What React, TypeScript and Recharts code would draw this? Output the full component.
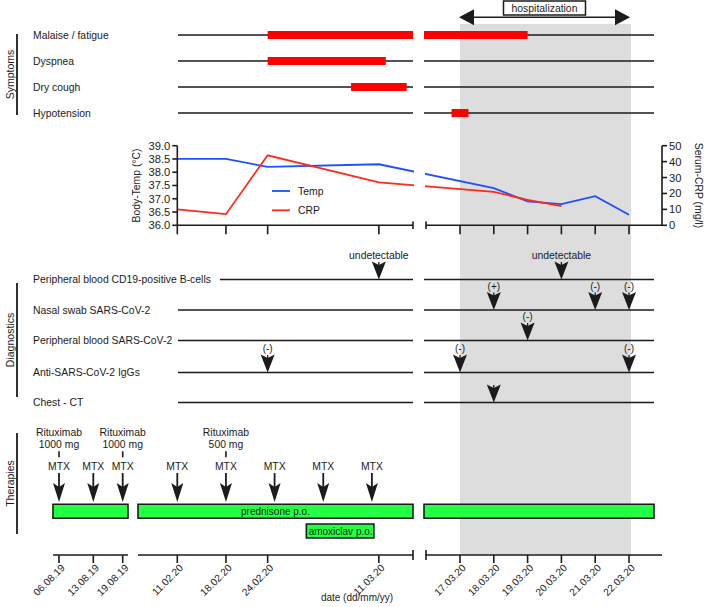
import React from 'react';
import {
  ComposedChart,
  LineChart,
  Line,
  XAxis,
  YAxis,
  ReferenceArea,
  ReferenceLine,
  ReferenceDot,
  Scatter,
  Legend,
} from 'recharts';

// ---------------- data ----------------
const bottomTickDates = ['06.08.19', '13.08.19', '19.08.19', '11.02.20', '18.02.20', '24.02.20', '11.03.20', '17.03.20', '18.03.20', '19.03.20', '20.03.20', '21.03.20', '22.03.20'];
const plotTickDates = ['11.02.20', '18.02.20', '24.02.20', '11.03.20', '17.03.20', '18.03.20', '19.03.20', '20.03.20', '21.03.20', '22.03.20'];
const vitalDates = ['11.02.20', '18.02.20', '24.02.20', '11.03.20', '18.03.20', '19.03.20', '20.03.20', '21.03.20', '22.03.20'];
const tempValues = [38.5, 38.5, 38.2, 38.3, 37.4, 36.9, 36.8, 37.1, 36.4];
const crpValues: (number | null)[] = [10, 7, 44, 27, 21, 16, 12, null, null];
const tempTicks = [36, 36.5, 37, 37.5, 38, 38.5, 39];
const crpTicks = [0, 10, 20, 30, 40, 50];
const seriesNames = ['Temp', 'CRP'];

const hospitalization = { from: '17.03.20', to: '22.03.20', label: 'hospitalization' };

const symptomRows = ['Malaise / fatigue', 'Dyspnea', 'Dry cough', 'Hypotension'];
const symptomSpans = [
  { row: 'Malaise / fatigue', from: '24.02.20', to: '19.03.20' },
  { row: 'Dyspnea', from: '24.02.20', to: '12.03.20' },
  { row: 'Dry cough', from: '07.03.20', to: '15.03.20' },
  { row: 'Hypotension', from: '16.03.20 18', to: '17.03.20 06' },
];

const diagnosticRows = ['Peripheral blood CD19-positive B-cells', 'Nasal swab SARS-CoV-2', 'Peripheral blood SARS-CoV-2', 'Anti-SARS-CoV-2 IgGs', 'Chest - CT'];
const diagnosticResults = [
  { row: 'Peripheral blood CD19-positive B-cells', date: '11.03.20', result: 'undetectable' },
  { row: 'Peripheral blood CD19-positive B-cells', date: '20.03.20', result: 'undetectable' },
  { row: 'Nasal swab SARS-CoV-2', date: '18.03.20', result: '(+)' },
  { row: 'Nasal swab SARS-CoV-2', date: '21.03.20', result: '(-)' },
  { row: 'Nasal swab SARS-CoV-2', date: '22.03.20', result: '(-)' },
  { row: 'Peripheral blood SARS-CoV-2', date: '19.03.20', result: '(-)' },
  { row: 'Anti-SARS-CoV-2 IgGs', date: '24.02.20', result: '(-)' },
  { row: 'Anti-SARS-CoV-2 IgGs', date: '17.03.20', result: '(-)' },
  { row: 'Anti-SARS-CoV-2 IgGs', date: '22.03.20', result: '(-)' },
  { row: 'Chest - CT', date: '18.03.20', result: '' },
];

const mtxDates = ['06.08.19', '13.08.19', '19.08.19', '11.02.20', '18.02.20', '25.02.20', '03.03.20', '10.03.20'];
const rituximabDoses = [
  { date: '06.08.19', dose: '1000 mg' },
  { date: '19.08.19', dose: '1000 mg' },
  { date: '18.02.20', dose: '500 mg' },
];
const prednisone = { label: 'prednisone p.o.' };
const amoxiclav = { from: '01.03.20', to: '10.03.20', label: 'amoxiclav p.o.' };

// ---------------- style / layout ----------------
const FONT = '"Liberation Sans", Arial, Helvetica, sans-serif';
const INK = '#1b1b1b';
const BLUE = '#1f50ff';
const RED = '#ff2a1a';
const GREEN = '#22ff44';
const GREY = '#dddddd';
const W = 709;
const H = 607;
const AXIS_Y = 555;

// broken date scale (three pieces)
const SCALE_PIECES = [
  { from: '01.01.19', anchor: '06.08.19', at: 59, perDay: 4.9 },
  { from: '01.02.20', anchor: '11.02.20', at: 177.3, perDay: 6.95 },
  { from: '16.03.20 12', anchor: '17.03.20', at: 460, perDay: 33.8 },
];
function parseDay(s: string): number {
  const [d, h] = s.split(' ');
  const [dd, mm, yy] = d.split('.').map(Number);
  return Date.UTC(2000 + yy, mm - 1, dd, h ? Number(h) : 0) / 86400000;
}
function toX(s: string): number {
  const t = parseDay(s);
  let piece = SCALE_PIECES[0];
  for (const p of SCALE_PIECES) if (t >= parseDay(p.from)) piece = p;
  return piece.at + (t - parseDay(piece.anchor)) * piece.perDay;
}

const ROW_SEGMENTS: [number, number][] = [[178, 413], [424, 654]];
const CD19_SEGMENTS: [number, number][] = [[220, 413], [424, 654]];
const BAR_SEGMENTS: [number, number][] = [[53, 128], [138, 413], [424, 654]];
const AXIS_SEGMENTS: [number, number][] = [[53, 128], [138, 413], [426, 662]];
const AXIS_BREAKS = [413, 426];
const LABEL_X = 33;
const PLOT_X: [number, number] = [177.3, 662];
const PLOT_TOP = 145.7;
const PLOT_BOTTOM = 225.3;

const symptomY = (row: string) => 35 + symptomRows.indexOf(row) * 26;
const DIAG_Y = [279.5, 310, 340.5, 372.5, 402.5];
const diagY = (row: string) => DIAG_Y[diagnosticRows.indexOf(row)];
const MTX_TIP_Y = 502;
const PRED_Y: [number, number] = [504.3, 518.3];
const AMOX_Y: [number, number] = [524, 538];

const clip = (a: number, b: number, segs: [number, number][]) =>
  segs.map(([s, e]) => [Math.max(a, s), Math.min(b, e)] as [number, number]).filter(([s, e]) => e > s);

const txt = { fontFamily: FONT, fill: INK, fontSize: 10.4 };

function mark(key: string, x: number, y: number, render: (cx: number, cy: number) => React.ReactNode) {
  return (
    <ReferenceDot
      key={key}
      x={x}
      y={y}
      r={1}
      ifOverflow="visible"
      shape={(p: any) => <g>{render(p.cx, p.cy)}</g>}
    />
  );
}

function hline(key: string, x1: number, x2: number, y: number, w = 1.6, yAxisId?: string) {
  return (
    <ReferenceLine
      key={key}
      yAxisId={yAxisId}
      segment={[{ x: x1, y }, { x: x2, y }]}
      stroke={INK}
      strokeWidth={w}
      ifOverflow="visible"
    />
  );
}

// thin row line drawn as an area so that coloured bars can sit on top of it
function rowLine(key: string, x1: number, x2: number, y: number) {
  return <ReferenceArea key={key} x1={x1} x2={x2} y1={y - 0.85} y2={y + 0.85} fill={INK} fillOpacity={1} stroke="none" ifOverflow="visible" />;
}

const DiagArrow = (p: any) => {
  const { cx, cy, payload } = p;
  return (
    <g>
      {payload.result ? (
        <text x={cx} y={cy - 24} textAnchor="middle" dominantBaseline="central" {...txt} fontSize={payload.result === 'undetectable' ? 10.4 : 10}>
          {payload.result}
        </text>
      ) : null}
      <path d={`M${cx},${cy} L${cx - 7},${cy - 18} L${cx},${cy - 14.5} L${cx + 7},${cy - 18} Z`} fill={INK} />
      <line x1={cx} x2={cx} y1={cy - 17.5} y2={cy - 12} stroke={INK} strokeWidth={1.3} />
    </g>
  );
};

const MtxArrow = (p: any) => {
  const { cx, cy } = p;
  return (
    <g>
      <text x={cx} y={cy - 36} textAnchor="middle" dominantBaseline="central" {...txt}>MTX</text>
      <line x1={cx} x2={cx} y1={cy - 29} y2={cy - 12} stroke={INK} strokeWidth={1.8} />
      <path d={`M${cx},${cy} L${cx - 6},${cy - 19} L${cx},${cy - 15} L${cx + 6},${cy - 19} Z`} fill={INK} />
    </g>
  );
};

const BottomTick = (p: any) => {
  const label = bottomTickDates.find((d) => Math.abs(toX(d) - p.payload.value) < 0.01) ?? '';
  const x = p.x + 4;
  const y = p.y + 1;
  return (
    <text x={x} y={y} transform={`rotate(-45 ${x} ${y})`} textAnchor="end" dominantBaseline="central" fontFamily={FONT} fill={INK} fontSize={10.2}>
      {label}
    </text>
  );
};

const LegendContent = (props: any) => {
  const items = [...(props.payload || [])].sort((a: any, b: any) => seriesNames.indexOf(a.value) - seriesNames.indexOf(b.value));
  return (
    <svg width={70} height={40} style={{ display: 'block', overflow: 'visible' }}>
      {items.map((e: any, i: number) => (
        <g key={e.value}>
          <line x1={2} x2={20} y1={9 + i * 19.3} y2={9 + i * 19.3} stroke={e.color} strokeWidth={1.8} />
          <text x={28} y={9 + i * 19.3} dominantBaseline="central" {...txt}>{e.value}</text>
        </g>
      ))}
    </svg>
  );
};

export default function App() {
  const diagPoints = diagnosticResults.map((d) => ({ x: toX(d.date), y: diagY(d.row), result: d.result }));
  const mtxPoints = mtxDates.map((d) => ({ x: toX(d), y: MTX_TIP_Y }));
  const vitals = vitalDates.map((d, i) => ({ x: toX(d), temp: tempValues[i], crp: crpValues[i] }));
  const hx1 = toX(hospitalization.from);
  const hx2 = toX(hospitalization.to);
  const predSeg2 = BAR_SEGMENTS[1];

  const groupLabel = (key: string, text: string, y1: number, y2: number) => [
    <ReferenceLine key={key + 'bar'} segment={[{ x: 17, y: y1 }, { x: 17, y: y2 }]} stroke={INK} strokeWidth={1.8} ifOverflow="visible" />,
    mark(key + 'txt', 10, (y1 + y2) / 2, (cx, cy) => (
      <text x={cx} y={cy} transform={`rotate(-90 ${cx} ${cy})`} textAnchor="middle" dominantBaseline="central" {...txt} fontSize={10.5}>
        {text}
      </text>
    )),
  ];

  return (
    <div style={{ position: 'absolute', left: 0, top: 0, width: W, height: H, background: '#fff' }}>
      <div style={{ position: 'absolute', left: 0, top: 0 }}>
        <ComposedChart width={W} height={H} margin={{ top: 0, right: 0, bottom: 0, left: 0 }}>
          <XAxis
            type="number"
            dataKey="x"
            domain={[0, W]}
            allowDataOverflow
            ticks={bottomTickDates.map(toX)}
            interval={0}
            height={H - AXIS_Y}
            axisLine={false}
            tickLine={{ stroke: INK, strokeWidth: 1.6 }}
            tickSize={8}
            tick={<BottomTick />}
          />
          <YAxis type="number" dataKey="y" domain={[0, AXIS_Y]} reversed hide allowDataOverflow />

          {/* hospitalization shading */}
          <ReferenceArea x1={hx1} x2={hx2 + 2} y1={24} y2={AXIS_Y} fill={GREY} fillOpacity={1} stroke="none" ifOverflow="visible" />

          {/* hospitalization arrow + box */}
          {hline('hosp', hx1 + 8, hx2 - 8, 17.3, 1.6)}
          {mark('hospL', hx1, 17.3, (cx, cy) => <path d={`M${cx - 1},${cy} L${cx + 14},${cy - 8} L${cx + 14},${cy + 8} Z`} fill={INK} />)}
          {mark('hospR', hx2, 17.3, (cx, cy) => <path d={`M${cx + 1},${cy} L${cx - 14},${cy - 8} L${cx - 14},${cy + 8} Z`} fill={INK} />)}
          {mark('hospBox', (hx1 + hx2) / 2, 8, (cx, cy) => (
            <g>
              <rect x={cx - 41} y={cy - 7} width={82} height={14} fill="#fff" stroke={INK} strokeWidth={1.5} />
              <text x={cx} y={cy} textAnchor="middle" dominantBaseline="central" {...txt}>{hospitalization.label}</text>
            </g>
          ))}

          {/* symptoms */}
          {groupLabel('sym', 'Symptoms', 34, 115)}
          {symptomRows.map((r) => [
            mark('sl' + r, LABEL_X, symptomY(r), (cx, cy) => (
              <text x={cx} y={cy} dominantBaseline="central" {...txt}>{r}</text>
            )),
            ...ROW_SEGMENTS.map(([a, b], i) => rowLine('sr' + r + i, a, b, symptomY(r))),
          ])}
          {symptomSpans.map((s) =>
            clip(toX(s.from), toX(s.to), ROW_SEGMENTS).map(([a, b], i) => (
              <ReferenceArea key={'sb' + s.row + i} x1={a} x2={b} y1={symptomY(s.row) - 4} y2={symptomY(s.row) + 4} fill="#ff0000" fillOpacity={1} stroke="none" ifOverflow="visible" />
            ))
          )}

          {/* diagnostics */}
          {groupLabel('dia', 'Diagnostics', 283, 397)}
          {diagnosticRows.map((r, ri) => [
            mark('dl' + r, LABEL_X, diagY(r), (cx, cy) => (
              <text x={cx} y={cy} dominantBaseline="central" {...txt}>{r}</text>
            )),
            ...(ri === 0 ? CD19_SEGMENTS : ROW_SEGMENTS).map(([a, b], i) => rowLine('dr' + r + i, a, b, diagY(r))),
          ])}
          <Scatter data={diagPoints} dataKey="y" isAnimationActive={false} shape={<DiagArrow />} />

          {/* therapies */}
          {groupLabel('the', 'Therapies', 433, 534)}
          {rituximabDoses.map((d) =>
            mark('rx' + d.date, toX(d.date), 432.3, (cx, cy) => (
              <g>
                <text x={cx} y={cy} textAnchor="middle" dominantBaseline="central" {...txt}>Rituximab</text>
                <text x={cx} y={cy + 12} textAnchor="middle" dominantBaseline="central" {...txt}>{d.dose}</text>
                <line x1={cx} x2={cx} y1={cy + 19} y2={cy + 25} stroke={INK} strokeWidth={1.6} />
              </g>
            ))
          )}
          <Scatter data={mtxPoints} dataKey="y" isAnimationActive={false} shape={<MtxArrow />} />
          {BAR_SEGMENTS.map(([a, b], i) => (
            <ReferenceArea key={'pred' + i} x1={a} x2={b} y1={PRED_Y[0]} y2={PRED_Y[1]} fill={GREEN} fillOpacity={1} stroke={INK} strokeWidth={1.6} ifOverflow="visible" />
          ))}
          {mark('predTxt', (predSeg2[0] + predSeg2[1]) / 2, (PRED_Y[0] + PRED_Y[1]) / 2, (cx, cy) => (
            <text x={cx} y={cy} textAnchor="middle" dominantBaseline="central" {...txt} fontSize={10}>{prednisone.label}</text>
          ))}
          <ReferenceArea x1={toX(amoxiclav.from) - 3} x2={toX(amoxiclav.to) + 2} y1={AMOX_Y[0]} y2={AMOX_Y[1]} fill={GREEN} fillOpacity={1} stroke={INK} strokeWidth={1.6} ifOverflow="visible" />
          {mark('amoxTxt', (toX(amoxiclav.from) + toX(amoxiclav.to)) / 2, (AMOX_Y[0] + AMOX_Y[1]) / 2, (cx, cy) => (
            <text x={cx} y={cy} textAnchor="middle" dominantBaseline="central" {...txt} fontSize={10}>{amoxiclav.label}</text>
          ))}

          {/* bottom broken axis */}
          {AXIS_SEGMENTS.map(([a, b], i) => hline('ax' + i, a, b, AXIS_Y, 1.6))}
          {AXIS_BREAKS.map((x) => (
            <ReferenceLine key={'brk' + x} segment={[{ x, y: AXIS_Y - 5 }, { x, y: AXIS_Y + 5 }]} stroke={INK} strokeWidth={1.6} ifOverflow="visible" />
          ))}
          {mark('xtitle', 357, 597, (cx, cy) => (
            <text x={cx} y={cy} textAnchor="middle" dominantBaseline="central" {...txt} fontSize={10}>date (dd/mm/yy)</text>
          ))}
        </ComposedChart>
      </div>

      {/* temperature / CRP panel */}
      <div style={{ position: 'absolute', left: 0, top: 0 }}>
        <LineChart width={W} height={H} data={vitals} margin={{ top: PLOT_TOP, right: W - PLOT_X[1] - 40, bottom: H - PLOT_BOTTOM - 10, left: PLOT_X[0] - 40 }}>
          <XAxis
            type="number"
            dataKey="x"
            domain={PLOT_X}
            allowDataOverflow
            ticks={plotTickDates.map(toX)}
            interval={0}
            height={10}
            axisLine={false}
            tickLine={{ stroke: INK, strokeWidth: 1.6 }}
            tickSize={9}
            tick={() => <g />}
          />
          <YAxis
            yAxisId="temp"
            type="number"
            domain={[36, 39]}
            ticks={tempTicks}
            interval={0}
            width={40}
            allowDataOverflow
            tickFormatter={(v: number) => v.toFixed(1)}
            axisLine={{ stroke: INK, strokeWidth: 1.6 }}
            tickLine={{ stroke: INK, strokeWidth: 1.6 }}
            tickSize={5}
            tick={{ fontSize: 11.2, fill: INK, fontFamily: FONT }}
            label={{
              content: (lp: any) => {
                const vb = lp.viewBox;
                const cx = vb.x - 1;
                const cy = vb.y + vb.height / 2;
                return (
                  <text x={cx} y={cy} transform={`rotate(-90 ${cx} ${cy})`} textAnchor="middle" dominantBaseline="central" {...txt}>
                    Body-Temp (°C)
                  </text>
                );
              },
            }}
          />
          <YAxis
            yAxisId="crp"
            orientation="right"
            type="number"
            domain={[0, 50]}
            ticks={crpTicks}
            interval={0}
            width={40}
            allowDataOverflow
            axisLine={{ stroke: INK, strokeWidth: 1.6 }}
            tickLine={{ stroke: INK, strokeWidth: 1.6 }}
            tickSize={5}
            tick={{ fontSize: 11.2, fill: INK, fontFamily: FONT }}
            label={{
              content: (lp: any) => {
                const vb = lp.viewBox;
                const cx = vb.x + 36;
                const cy = vb.y + vb.height / 2;
                return (
                  <text x={cx} y={cy} transform={`rotate(90 ${cx} ${cy})`} textAnchor="middle" dominantBaseline="central" {...txt}>
                    Serum-CRP (mg/l)
                  </text>
                );
              },
            }}
          />
          <Line yAxisId="temp" dataKey="temp" name="Temp" type="linear" stroke={BLUE} strokeWidth={1.8} dot={false} isAnimationActive={false} />
          <Line yAxisId="crp" dataKey="crp" name="CRP" type="linear" stroke={RED} strokeWidth={1.8} dot={false} isAnimationActive={false} />
          <Legend
            layout="vertical"
            align="center"
            verticalAlign="middle"
            wrapperStyle={{ left: 270, top: 181.7, width: 70, height: 40 }}
            content={<LegendContent />}
          />
        </LineChart>
      </div>

      {/* axis break overlay for the temperature / CRP panel */}
      <div style={{ position: 'absolute', left: 0, top: 0 }}>
        <ComposedChart width={W} height={H} data={vitals} margin={{ top: PLOT_TOP, right: W - PLOT_X[1], bottom: H - PLOT_BOTTOM, left: PLOT_X[0] }}>
          <XAxis type="number" dataKey="x" domain={PLOT_X} hide allowDataOverflow />
          <YAxis type="number" domain={[36, 39]} hide allowDataOverflow />
          <ReferenceArea x1={414} x2={425} y1={36.15} y2={39} fill="#ffffff" fillOpacity={1} stroke="none" ifOverflow="visible" />
          {AXIS_SEGMENTS.slice(1).map(([a, b], i) => hline('tax' + i, i === 0 ? PLOT_X[0] : a, b, 36, 1.6))}
          {AXIS_BREAKS.map((x) => (
            <ReferenceLine key={'tbrk' + x} segment={[{ x, y: 36.14 }, { x, y: 35.86 }]} stroke={INK} strokeWidth={1.6} ifOverflow="visible" />
          ))}
        </ComposedChart>
      </div>
    </div>
  );
}
